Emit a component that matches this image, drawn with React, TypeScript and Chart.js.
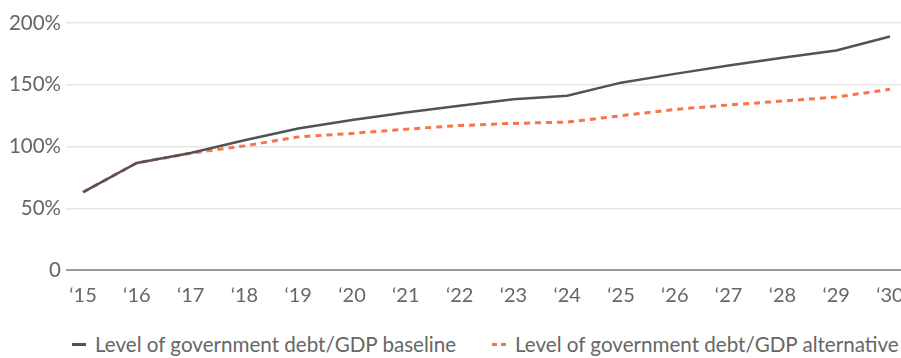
import React, { useEffect, useRef } from "react";
import { Chart, registerables } from "chart.js";

Chart.register(...registerables);

const years = [15, 16, 17, 18, 19, 20, 21, 22, 23, 24, 25, 26, 27, 28, 29, 30];
const baseline = [63, 86.7, 94.8, 105, 114.6, 121.4, 127.6, 133, 138.2, 141.1, 151.7, 158.8, 165.5, 171.8, 177.7, 189.1];
const alternative = [63, 86.7, 94.5, 100.5, 107.8, 110.6, 114, 117, 118.7, 119.8, 124.9, 130, 133.6, 136.8, 140, 146.3];
const yTicks = [0, 50, 100, 150, 200];
const seriesLabels = ["Level of government debt/GDP baseline", "Level of government debt/GDP alternative"];

const FONT = "Lato, 'Open Sans', sans-serif";
const BASE_COLOR = "#535355";
const ALT_COLOR = "#fb7349";
const TEXT_COLOR = "#666666";

export default function App() {
  const ref = useRef<HTMLCanvasElement | null>(null);

  useEffect(() => {
    if (!ref.current) return;
    const chart = new Chart(ref.current, {
      type: "line",
      data: {
        datasets: [
          {
            label: seriesLabels[0],
            data: years.map((x, i) => ({ x, y: baseline[i] })),
            borderColor: BASE_COLOR,
            borderWidth: 2.5,
            pointRadius: 0,
            tension: 0,
          },
          {
            label: seriesLabels[1],
            data: years.map((x, i) => ({ x, y: alternative[i] })),
            borderColor: ALT_COLOR,
            borderWidth: 3,
            borderDash: [6, 5],
            pointRadius: 0,
            tension: 0,
          },
        ],
      },
      options: {
        animation: false,
        responsive: false,
        maintainAspectRatio: false,
        layout: { padding: { top: 23, left: 0, right: 0, bottom: 0 } },
        plugins: { legend: { display: false }, tooltip: { enabled: false } },
        scales: {
          x: {
            type: "linear",
            min: 14.683,
            max: 30.205,
            afterFit: (s: any) => {
              s.height = 40;
              s.paddingLeft = 0;
              s.paddingRight = 0;
            },
            afterBuildTicks: (s: any) => {
              s.ticks = years.map((v) => ({ value: v }));
            },
            grid: { display: false, drawTicks: false },
            border: { display: false },
            ticks: {
              color: TEXT_COLOR,
              font: { family: FONT, size: 20 },
              padding: 14,
              maxRotation: 0,
              autoSkip: false,
              callback: (v: any) => "\u2018" + String(v),
            },
          },
          y: {
            min: 0,
            max: 200,
            afterFit: (s: any) => {
              s.width = 66;
              s.paddingTop = 0;
              s.paddingBottom = 0;
            },
            afterBuildTicks: (s: any) => {
              s.ticks = yTicks.map((v) => ({ value: v }));
            },
            grid: {
              drawTicks: false,
              color: (c: any) => (c.tick && c.tick.value === 0 ? "#9a9a9a" : "#e6e6e6"),
              lineWidth: (c: any) => (c.tick && c.tick.value === 0 ? 2 : 1.5),
            },
            border: { display: false },
            ticks: {
              color: TEXT_COLOR,
              font: { family: FONT, size: 20.5 },
              padding: 5,
              callback: (v: any) => (v === 0 ? "0" : v + "%"),
            },
          },
        },
      },
    });
    return () => chart.destroy();
  }, []);

  const legendText: React.CSSProperties = {
    fontFamily: FONT,
    fontSize: 20.6,
    color: TEXT_COLOR,
    whiteSpace: "nowrap",
  };

  return (
    <div style={{ position: "absolute", left: 0, top: 0, width: 901, height: 358, background: "#fff" }}>
      <canvas ref={ref} width={901} height={310} style={{ position: "absolute", left: 0, top: 0 }} />
      <div style={{ position: "absolute", left: 72, top: 332, display: "flex", alignItems: "center", ...legendText }}>
        <span style={{ display: "inline-block", width: 14, height: 3, background: BASE_COLOR, marginRight: 9 }} />
        <span>{seriesLabels[0]}</span>
      </div>
      <div style={{ position: "absolute", left: 492, top: 332, display: "flex", alignItems: "center", ...legendText }}>
        <span style={{ display: "inline-block", width: 5, height: 3, background: ALT_COLOR, marginRight: 4 }} />
        <span style={{ display: "inline-block", width: 5, height: 3, background: ALT_COLOR, marginRight: 9 }} />
        <span>{seriesLabels[1]}</span>
      </div>
    </div>
  );
}
